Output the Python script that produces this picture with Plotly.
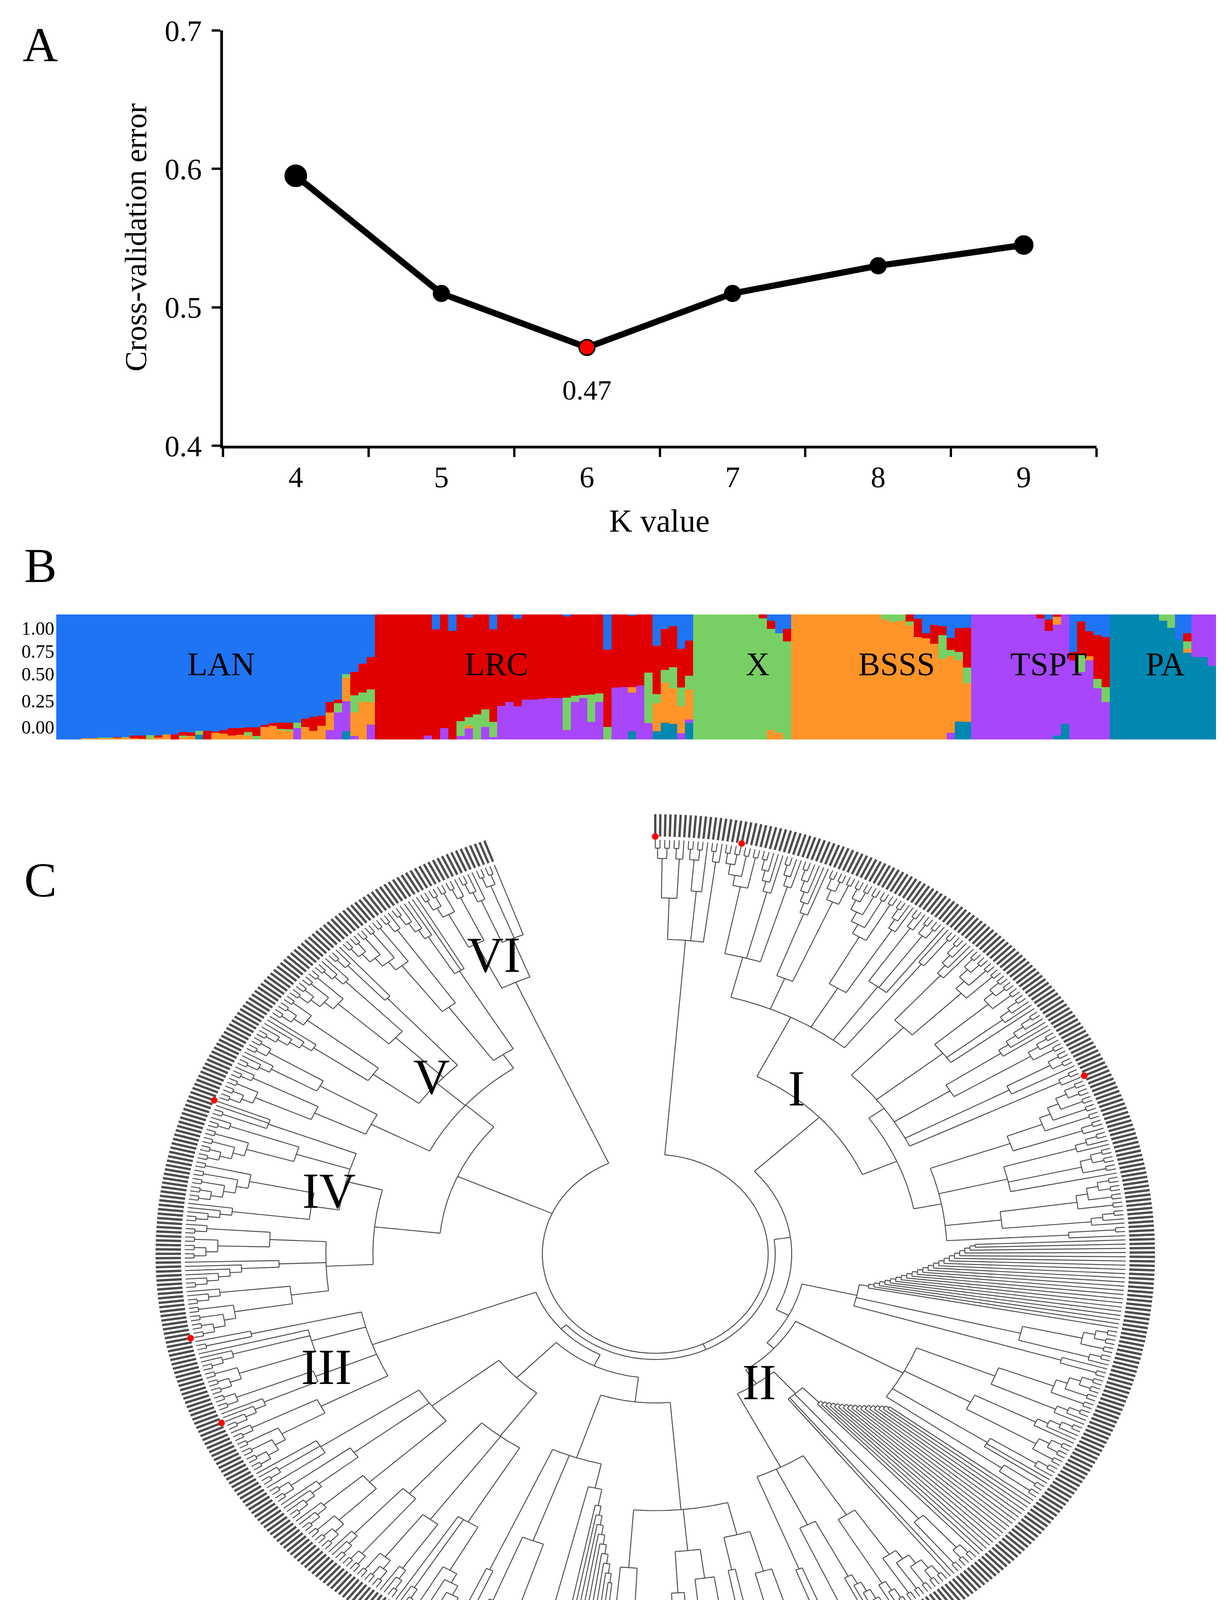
import math
import re
import plotly.graph_objects as go

FONT = "Liberation Serif"
W, H = 3137, 4375

# ---------------- Panel A : cross-validation error ----------------
K_VALUES = ["4", "5", "6", "7", "8", "9"]
CV_ERROR = [0.595, 0.510, 0.471, 0.510, 0.530, 0.545]
CV_MARKER_SIZE = [54, 40, 40, 40, 40, 46]
CV_MARKER_COLOR = ["black", "black", "#ff0000", "black", "black", "black"]
CV_Y_TICKS = [0.4, 0.5, 0.6, 0.7]
CV_Y_TICKTEXT = ["0.4", "0.5", "0.6", "0.7"]
BEST_INDEX = 2
BEST_LABEL = "0.47"

# ---------------- Panel B : ancestry proportions (K = 6) ----------------
GROUP_NAMES = ["LAN", "LRC", "X", "BSSS", "TSPT", "PA"]
GROUP_LABEL_COL = [19.7, 53.4, 85.4, 102.4, 121.0, 135.3]
B_TICK_POS = [0.100, 0.310, 0.525, 0.705, 0.890]
B_TICK_TEXT = ["0.00", "0.25", "0.50", "0.75", "1.00"]
ANC_COLORS = ["#0088b0", "#a846fc", "#ff9428", "#78d064", "#e00000", "#1f74f4"]

TEAL = ([0,0,0,0,0,0,0,0,0,0, 0,0,0,0,0,0,0,0.038,0,0, 0,0,0,0,0,0,0,0,0,0, 0,0,0,0,0,0.065,0,0,0]
        + [0,0,0,0,0,0,0,0,0,0, 0,0,0,0,0,0,0,0,0,0, 0,0,0,0,0,0,0,0,0,0, 0,0.065,0,0,0.065,0.135,0.124,0,0.13]
        + [0,0,0,0,0,0,0,0,0,0,0,0]
        + [0,0,0,0,0,0,0,0,0,0, 0,0,0,0,0,0,0,0,0,0, 0.145,0.14]
        + [0,0,0,0,0,0,0,0,0,0, 0.03,0.124,0,0,0,0,0]
        + [1,1,1,1,1,1,0.95,0.895,0.80,0.695,0.66,0.66,0.59])
PURPLE = ([0,0,0,0,0,0,0,0,0,0, 0,0,0,0,0,0,0,0,0,0, 0,0,0,0,0,0,0,0,0,0.09, 0,0,0,0.075,0.215,0.24,0.027,0,0.12]
          + [0,0,0,0,0,0,0.03,0,0.09,0, 0.027,0.086,0,0.10,0.02,0.27,0.30,0.265,0.32,0.32, 0.325,0.33,0.33,0.075,0.30,0.33,0.14,0.30,0,0.415, 0.42,0.31,0.43,0.13,0,0,0,0.05,0.03]
          + [0,0,0,0,0,0,0,0,0,0,0,0]
          + [0,0,0,0,0,0,0,0,0,0, 0,0,0,0,0,0,0,0,0,0.054, 0,0]
          + [1,1,1,1,1,1,1,1,0.97,0.87, 0.89,0.876,0.63,0.54,0.635,0.41,0.30]
          + [0,0,0,0,0,0,0,0,0,0, 0.34,0.34,0.41])
ORANGE = ([0,0,0,0.01,0.01,0.01,0.01,0.015,0.015,0.01, 0.005,0.005,0.015,0.04,0,0.016,0.027,0,0,0.054, 0.048,0.032,0.038,0.032,0,0.10,0.11,0.075,0.065,0, 0.10,0.07,0.11,0.14,0,0.19,0.19,0.30,0.18]
          + [0,0,0,0,0,0,0,0,0,0, 0,0.027,0,0,0,0,0,0,0,0, 0,0,0,0,0,0,0,0,0,0, 0,0.043,0,0,0.226,0.32,0.285,0.215,0.24]
          + [0,0,0,0,0,0,0,0,0,0.075,0.054,0]
          + [1,1,1,1,1,1,1,1,1,1, 1,0.96,0.94,0.95,0.913,0.82,0.81,0.765,0.645,0.613, 0.49,0.31]
          + [0,0,0,0,0,0,0,0,0,0, 0.06,0,0,0,0.03,0,0]
          + [0,0,0,0,0,0,0,0,0,0.03, 0,0,0])
GREEN = ([0,0,0,0,0,0.005,0.005,0,0.005,0, 0,0.03,0,0,0,0.016,0,0.03,0,0, 0,0,0,0.027,0.027,0,0,0.01,0.016,0.043, 0,0,0,0,0.075,0.027,0.135,0.075,0.10]
         + [0,0,0,0,0,0,0,0,0,0, 0.12,0.065,0.2,0.14,0.12,0,0,0,0,0, 0,0,0,0.26,0.05,0.027,0.22,0.07,0.10,0, 0,0,0,0.405,0.07,0.10,0.17,0.15,0.11]
         + [1,1,1,1,1,1,1,1,0.97,0.81,0.796,0.784]
         + [0,0,0,0,0,0,0,0,0,0, 0,0.04,0.06,0.05,0.03,0,0,0,0.19,0.05, 0.065,0.125]
         + [0,0,0,0,0,0,0,0,0,0, 0,0,0,0.14,0,0.075,0.12]
         + [0,0,0,0,0,0,0.05,0.105,0,0.06, 0,0,0])
RED = ([0,0,0,0,0,0,0,0.005,0,0.02, 0.025,0,0.015,0,0.04,0.027,0.03,0,0.07,0.01, 0.027,0.06,0.054,0.038,0.07,0.016,0.02,0.05,0.054,0, 0.065,0.11,0.08,0.086,0.03,0,0.19,0.23,0.26]
       + [1,1,1,1,1,1,0.97,0.88,0.91,0.87, 0.853,0.797,0.8,0.76,0.74,0.73,0.70,0.70,0.68,0.68, 0.675,0.67,0.67,0.65,0.65,0.643,0.64,0.63,0.62,0.585, 0.58,0.572,0.57,0.465,0.39,0.33,0.326,0.31,0.28]
       + [0,0,0,0,0,0,0,0,0.03,0.065,0,0.10]
       + [0,0,0,0,0,0,0,0,0,0, 0,0,0,0,0.057,0.145,0.04,0.15,0.07,0.097, 0.19,0.32]
       + [0,0,0,0,0,0,0,0,0.03,0.09, 0.02,0,0.07,0.265,0.20,0.35,0.40]
       + [0,0,0,0,0,0,0,0,0,0.065, 0,0,0])
BLUE = ([1,1,1,0.99,0.99,0.985,0.985,0.98,0.98,0.97, 0.97,0.965,0.97,0.96,0.96,0.941,0.943,0.932,0.93,0.936, 0.925,0.908,0.908,0.903,0.903,0.884,0.87,0.865,0.865,0.867, 0.835,0.82,0.81,0.699,0.68,0.478,0.458,0.395,0.34]
        + [0,0,0,0,0,0,0,0.12,0,0.13, 0,0.025,0,0,0.12,0,0,0.035,0,0, 0,0,0,0.015,0,0,0,0,0.28,0, 0,0.01,0,0,0.249,0.115,0.095,0.275,0.21]
        + [0,0,0,0,0,0,0,0,0,0.05,0.15,0.116]
        + [0,0,0,0,0,0,0,0,0,0, 0,0,0,0,0,0.035,0.15,0.085,0.095,0.186, 0.11,0.105]
        + [0,0,0,0,0,0,0,0,0,0.04, 0,0,0.30,0.055,0.135,0.165,0.18]
        + [0,0,0,0,0,0,0,0,0.20,0.15, 0,0,0])
ANCESTRY = [TEAL, PURPLE, ORANGE, GREEN, RED, BLUE]   # stacked bottom -> top

# ---------------- Panel C : circular cladogram ----------------
# compact Newick-like topology: x = leaf, Ln = ladder of n leaves,
# Pn = ladder of n cherries, @r = node radius (fraction of tip radius), @a~b = ladder base~top
I_TOP = "((P2,L3)@0.86,(P2,x)@0.88,(L2,x))@0.76"
I_G1 = "((P4,L5,(L3,x))@0.74,(L6,P3)@0.72,(P5,L4)@0.75,(L3,P2,x)@0.8,(x,L2)@0.9)@0.64"
I_G2 = "((L5,P4)@0.76,(P3,L4,x)@0.78,(L6,(L3,L2))@0.74,(P2,x)@0.85,L3)@0.6"
I_G3 = "((P5,L3)@0.8,(L4,P3,x)@0.77,(P4,L4)@0.74,(L2,x)@0.88)@0.62"
II_FAN = "(L22@0.46~0.68,(P3,L3)@0.8,(x,L2)@0.9)@0.44"
II_M1 = "((P4,L4)@0.78,(L5,P3)@0.76,(L3,x,x)@0.84,P2@0.9)@0.6"
II_M2 = "(L18@0.5~0.62,(P2,L2)@0.85,x,x)@0.45"
II_M3 = "((P5,L4)@0.75,(L6,P3)@0.73,(L3,x)@0.82)@0.58"
II_B1 = "(((P4,L3)@0.8,(L5,x)@0.78)@0.7,((P3,L4)@0.79,(L3,P2)@0.82)@0.72,(P5,L3)@0.76)@0.62"
II_B2 = "((L10@0.62~0.8,P3)@0.58,(P4,L5)@0.74,(L3,x)@0.84)@0.52"
II_B3 = "((P5,L3,x)@0.76,(L4,P3)@0.8,(P2,L4)@0.78)@0.55"
II_B4 = "((P3,L4)@0.82,(L5,P2)@0.8,(x,L3,x)@0.85)@0.6"
III_CLADE = "((P4,L3)@0.8,(L5,P2)@0.78,(P3,L4,x)@0.76,(L2,x)@0.88)@0.64"
IV_CLADE = "(((P4,L4)@0.78,(L6,x)@0.8,(P3,L3)@0.82)@0.7,((L5,P5)@0.74,(P4,L3)@0.8,(L2,x,x)@0.88)@0.68)@0.6"
V_CLADE = ("(((P3,L3)@0.8,(L4,P2)@0.82)@0.68,((L6,P3)@0.74,(P4,L4)@0.76,(L3,x)@0.84)@0.62,"
           "((P5,L3)@0.74,(L5,x,x)@0.8)@0.58)@0.54")
VI_CLADE = "((P3,L3)@0.84,(L4,P2,x)@0.82)@0.72"

I_MAIN = f"({I_G1},({I_G2},{I_G3})@0.56)@0.48"
II_MID = f"({II_M1},({II_M2},{II_M3})@0.38)@0.34"
II_BOTTOM = f"(({II_B1},{II_B2})@0.36,({II_B3},{II_B4})@0.42)@0.3"
TREE = (f"({I_TOP},(({I_MAIN},({II_FAN},{II_MID})@0.32)@0.29,({II_BOTTOM},{III_CLADE})@0.27)@0.255,"
        f"({IV_CLADE},{V_CLADE})@0.46,{VI_CLADE})@0.24")

CLADE_NAMES = ["I", "II", "III", "IV", "V", "VI"]
CLADE_LABEL_THETA = [36.9, 144.4, 248.7, 282.4, 312.0, 334.6]
CLADE_LABEL_R = [0.50, 0.38, 0.75, 0.71, 0.64, 0.80]
RED_LEAVES = [0, 18, 111, 422, 443, 500]

# geometry of the tree panel (pixel units of panel C axes)
THETA_START, THETA_END = 0.0, 340.0
CX, CY, RX, RY = 1670.0, 3202.0, 1205.0, 1060.0
STEP, TIP = 0.025, 0.02
BAND_IN, BAND_OUT = 1.008, 1.062


def parse_tree(text):
    pos = 0

    def read_num():
        nonlocal pos
        m = re.match(r"[0-9.]+", text[pos:])
        pos += m.end()
        return float(m.group(0))

    def read_radius():
        nonlocal pos
        lo = hi = None
        if pos < len(text) and text[pos] == "@":
            pos += 1
            lo = read_num()
            if pos < len(text) and text[pos] == "~":
                pos += 1
                hi = read_num()
        return lo, hi

    def leaf():
        return {"kids": [], "r": 1.0}

    def radii(m, top, base):
        if m == 1:
            return [base if base is not None else top]
        if base is None:
            base = top - STEP * (m - 1)
        return [top + (base - top) * j / (m - 1) for j in range(m)]

    def expand(kind, n, lo, hi):
        if kind == "x":
            return leaf()
        if kind == "L":
            if n == 1:
                return leaf()
            rr = radii(n - 1, hi if hi is not None else 1 - TIP, lo)
            node = {"kids": [leaf(), leaf()], "r": rr[0]}
            for j in range(1, n - 1):
                node = {"kids": [node, leaf()], "r": rr[j]}
            return node
        cher = [{"kids": [leaf(), leaf()], "r": 1 - TIP} for _ in range(n)]
        if n == 1:
            return cher[0]
        rr = radii(n - 1, hi if hi is not None else 1 - TIP - STEP, lo)
        node = {"kids": [cher[0], cher[1]], "r": rr[0]}
        for j in range(1, n - 1):
            node = {"kids": [node, cher[j + 1]], "r": rr[j]}
        return node

    def node():
        nonlocal pos
        if text[pos] == "(":
            pos += 1
            kids = [node()]
            while text[pos] == ",":
                pos += 1
                kids.append(node())
            pos += 1
            lo, _ = read_radius()
            if lo is None:
                lo = min(k["r"] for k in kids) - STEP
            return {"kids": kids, "r": lo}
        m = re.match(r"([xLP])(\d*)", text[pos:])
        pos += m.end()
        kind = m.group(1)
        n = int(m.group(2)) if m.group(2) else 1
        lo, hi = read_radius()
        return expand(kind, n, lo, hi)

    return node()


root = parse_tree(TREE)
leaves = []


def collect(nd):
    if not nd["kids"]:
        leaves.append(nd)
    for k in nd["kids"]:
        collect(k)


collect(root)
NL = len(leaves)
for i, lf in enumerate(leaves):
    lf["t"] = THETA_START + (THETA_END - THETA_START) * i / (NL - 1)


def set_theta(nd):
    if nd["kids"]:
        for k in nd["kids"]:
            set_theta(k)
        nd["t"] = 0.5 * (nd["kids"][0]["t"] + nd["kids"][-1]["t"])


set_theta(root)


def pxy(r, t):
    a = math.radians(t)
    return CX + RX * r * math.sin(a), CY - RY * r * math.cos(a)


tx, ty = [], []


def draw(nd):
    if not nd["kids"]:
        return
    t0, t1 = nd["kids"][0]["t"], nd["kids"][-1]["t"]
    steps = max(2, int(abs(t1 - t0) / 0.4) + 1)
    for j in range(steps + 1):
        x, y = pxy(nd["r"], t0 + (t1 - t0) * j / steps)
        tx.append(x)
        ty.append(y)
    tx.append(None)
    ty.append(None)
    for k in nd["kids"]:
        x0, y0 = pxy(nd["r"], k["t"])
        x1, y1 = pxy(k["r"], k["t"])
        tx.extend([x0, x1, None])
        ty.extend([y0, y1, None])
        draw(k)


draw(root)

bx, by = [], []
for lf in leaves:
    x0, y0 = pxy(BAND_IN, lf["t"])
    x1, y1 = pxy(BAND_OUT, lf["t"])
    bx.extend([x0, x1, None])
    by.extend([y0, y1, None])

rx_, ry_ = [], []
for idx in RED_LEAVES:
    x, y = pxy(BAND_IN, leaves[idx]["t"])
    rx_.append(x)
    ry_.append(y)

# ---------------- figure ----------------
fig = go.Figure()

fig.add_trace(go.Scatter(
    x=K_VALUES, y=CV_ERROR, mode="lines+markers", xaxis="x", yaxis="y",
    line=dict(color="black", width=16),
    marker=dict(size=CV_MARKER_SIZE, color=CV_MARKER_COLOR, opacity=1,
                line=dict(color="black", width=4)),
    showlegend=False, hoverinfo="skip", cliponaxis=False))

cols = list(range(len(BLUE)))
for vals, col in zip(ANCESTRY, ANC_COLORS):
    fig.add_trace(go.Bar(x=cols, y=vals, width=1.0, xaxis="x2", yaxis="y2",
                         marker=dict(color=col, line=dict(width=0)),
                         showlegend=False, hoverinfo="skip"))

fig.add_trace(go.Scatter(x=tx, y=ty, mode="lines", xaxis="x3", yaxis="y3",
                         line=dict(color="#4a4a4a", width=2.4),
                         showlegend=False, hoverinfo="skip"))
fig.add_trace(go.Scatter(x=bx, y=by, mode="lines", xaxis="x3", yaxis="y3",
                         line=dict(color="#4d4d4d", width=6),
                         showlegend=False, hoverinfo="skip"))
fig.add_trace(go.Scatter(x=rx_, y=ry_, mode="markers", xaxis="x3", yaxis="y3",
                         marker=dict(color="#ff0000", size=17),
                         showlegend=False, hoverinfo="skip"))

# panel A geometry (pixels)
AX0, AX1, AY0, AY1 = 563, 2800, 70, 1133
# panel B geometry
BX0, BX1, BY0, BY1 = 136, 3106, 1565, 1885
# panel C geometry
CY0 = 1950

axis_font = dict(family=FONT, size=76, color="black")
fig.update_layout(
    template="none",
    width=W, height=H, margin=dict(l=0, r=0, t=0, b=0, pad=0, autoexpand=False),
    paper_bgcolor="white", plot_bgcolor="white",
    barmode="stack", bargap=0, showlegend=False,
    font=dict(family=FONT, color="black"),
    xaxis=dict(domain=[AX0 / W, AX1 / W], anchor="y", type="category",
               categoryorder="array", categoryarray=K_VALUES,
               range=[-0.5, len(K_VALUES) - 0.5], tickson="boundaries",
               ticks="outside", ticklen=22, tickwidth=6, tickcolor="black",
               showline=True, linecolor="black", linewidth=7, showgrid=False,
               zeroline=False, tickfont=axis_font, ticklabelstandoff=8,
               automargin=False),
    yaxis=dict(domain=[1 - AY1 / H, 1 - AY0 / H], anchor="x",
               range=[0.4, 0.7], tickvals=CV_Y_TICKS, ticktext=CV_Y_TICKTEXT,
               ticks="outside", ticklen=22, tickwidth=6, tickcolor="black",
               showline=True, linecolor="black", linewidth=7, showgrid=False,
               zeroline=False, tickfont=axis_font, ticklabelstandoff=10,
               automargin=False),
    xaxis2=dict(domain=[BX0 / W, BX1 / W], anchor="y2", range=[-0.5, len(BLUE) - 0.5],
                visible=False, automargin=False),
    yaxis2=dict(domain=[1 - BY1 / H, 1 - BY0 / H], anchor="x2", range=[0, 1],
                tickvals=B_TICK_POS, ticktext=B_TICK_TEXT, ticks="",
                showline=False, showgrid=False, zeroline=False,
                tickfont=dict(family=FONT, size=48, color="black"), ticklabelstandoff=4,
                automargin=False),
    xaxis3=dict(domain=[0, 1], anchor="y3", range=[0, W], visible=False, automargin=False),
    yaxis3=dict(domain=[0, 1 - CY0 / H], anchor="x3", range=[H, CY0], visible=False,
                automargin=False),
)

ann = []
# panel letters
for letter, (px, py) in zip(["A", "B", "C"], [(95, 107), (95, 1440), (95, 2245)]):
    ann.append(dict(text=letter, x=px / W, y=1 - py / H, xref="paper", yref="paper",
                    showarrow=False, xanchor="center", yanchor="middle",
                    font=dict(family=FONT, size=125, color="black")))
# axis titles panel A
ann.append(dict(text="Cross-validation error", x=340 / W, y=1 - 600 / H, xref="paper", yref="paper",
                showarrow=False, textangle=-90, xanchor="center", yanchor="middle",
                font=dict(family=FONT, size=78, color="black")))
ann.append(dict(text="K value", x=1680 / W, y=1 - 1325 / H, xref="paper", yref="paper",
                showarrow=False, xanchor="center", yanchor="middle",
                font=dict(family=FONT, size=82, color="black")))
ann.append(dict(text=BEST_LABEL, x=BEST_INDEX, y=CV_ERROR[BEST_INDEX], xref="x", yref="y",
                showarrow=False, yshift=-110, xanchor="center", yanchor="middle",
                font=dict(family=FONT, size=72, color="black")))
# group labels panel B
for name, c in zip(GROUP_NAMES, GROUP_LABEL_COL):
    ann.append(dict(text=name, x=c, y=0.6, xref="x2", yref="y2", showarrow=False,
                    xanchor="center", yanchor="middle",
                    font=dict(family=FONT, size=84, color="black")))
# clade labels panel C
for name, t, r in zip(CLADE_NAMES, CLADE_LABEL_THETA, CLADE_LABEL_R):
    x, y = pxy(r, t)
    ann.append(dict(text=name, x=x, y=y, xref="x3", yref="y3", showarrow=False,
                    xanchor="center", yanchor="middle",
                    font=dict(family=FONT, size=130, color="black")))
fig.update_layout(annotations=ann)

fig.write_html("out.html")
